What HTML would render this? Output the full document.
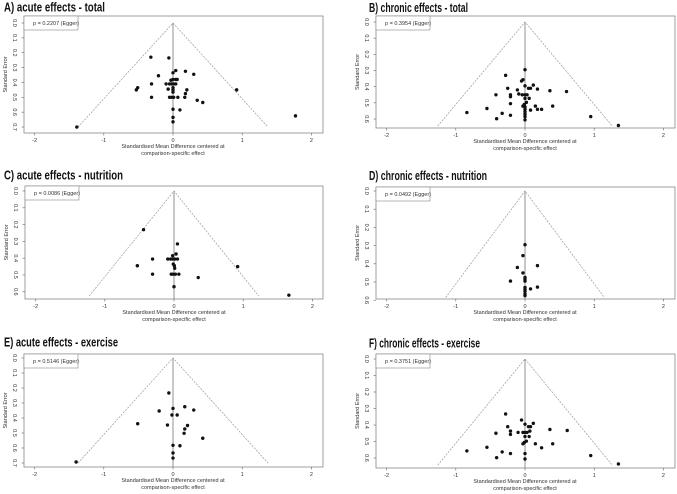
<!DOCTYPE html>
<html><head><meta charset="utf-8"><style>
html,body{margin:0;padding:0;background:#fff;}
svg{display:block;font-family:"Liberation Sans",sans-serif;}
.ttl{font-weight:bold;font-size:12.5px;fill:#111;}
.tk{font-size:5.5px;fill:#333;}
</style></head><body>
<svg id="fig" width="677" height="494" viewBox="0 0 677 494" xmlns="http://www.w3.org/2000/svg"></svg>
<script>
// ---- data: [SMD, SE] per panel ----
const panelTitles = ["A) acute effects - total","B) chronic effects - total","C) acute effects - nutrition","D) chronic effects - nutrition","E) acute effects - exercise","F) chronic effects - exercise"];
const eggerP = ["0.2207","0.3954","0.0086","0.0492","0.5146","0.3751"];
const xTicks = [-2,-1,0,1,2];
const seTicksA = [0,0.1,0.2,0.3,0.4,0.5,0.6,0.7];
const seTicksB = [0,0.1,0.2,0.3,0.4,0.5,0.6];
const funnelMaxSE = [0.70,0.643,0.625,0.585,0.70,0.643];
const smdA = [-0.32,-0.06,0.04,0.18,0,0.30,-0.21,-0.03,0,0.04,0.06,-0.10,-0.31,-0.05,-0.02,0.01,0.04,0,0,-0.07,0.2,-0.51,-0.53,0.92,0,0.18,-0.31,-0.05,-0.02,0.01,0.07,0.17,0.35,0.43,0,0.10,0,1.77,0,-1.39];
const seA  = [0.23,0.235,0.32,0.325,0.335,0.345,0.355,0.385,0.38,0.38,0.38,0.41,0.41,0.41,0.41,0.41,0.41,0.435,0.45,0.445,0.45,0.435,0.45,0.45,0.465,0.475,0.50,0.50,0.50,0.50,0.50,0.50,0.52,0.535,0.58,0.585,0.635,0.625,0.665,0.70];
const smdB = [0,-0.28,-0.03,-0.05,0,-0.25,0.12,0.05,0.08,0.18,0.36,0.60,-0.11,-0.09,-0.21,-0.21,-0.42,-0.04,0,0.03,0.06,0,0.02,-0.01,-0.03,-0.21,-0.55,0,0,0.15,0.18,0.24,0.40,0.08,-0.84,-0.33,-0.21,0,0,0,-0.41,0,0.95,1.35];
const seB  = [0.295,0.33,0.357,0.365,0.395,0.41,0.39,0.41,0.41,0.415,0.425,0.43,0.42,0.445,0.45,0.462,0.45,0.45,0.45,0.45,0.472,0.472,0.497,0.51,0.52,0.505,0.535,0.525,0.54,0.52,0.54,0.54,0.52,0.545,0.56,0.565,0.577,0.555,0.57,0.585,0.598,0.605,0.585,0.64];
const smdC = [-0.44,0.05,0.03,-0.02,-0.31,-0.09,-0.05,-0.02,0.01,0.05,-0.01,0.005,0.01,-0.53,0.92,-0.31,-0.04,-0.015,0.02,0.07,0.35,0,1.66];
const seC  = [0.23,0.315,0.375,0.385,0.405,0.405,0.405,0.405,0.405,0.405,0.435,0.445,0.46,0.445,0.45,0.495,0.495,0.495,0.495,0.495,0.515,0.57,0.62];
const smdD = [0,-0.03,-0.11,0.18,-0.03,0,0,0,-0.21,0,0,0,0,0,0.08,0.18];
const seD  = [0.295,0.355,0.42,0.41,0.45,0.475,0.485,0.495,0.495,0.53,0.54,0.55,0.565,0.575,0.538,0.528];
const smdE = [-0.06,0,0.17,0.30,-0.20,-0.015,0.06,-0.51,-0.08,0.21,0.17,0.16,0.43,0,0.10,0,0,-1.40];
const seE  = [0.233,0.336,0.325,0.347,0.353,0.38,0.38,0.438,0.447,0.45,0.473,0.502,0.535,0.582,0.585,0.633,0.667,0.693];
const smdF = [-0.28,-0.05,0,0.12,0.08,0.05,-0.25,0.07,-0.21,-0.21,-0.42,-0.10,-0.03,0,0.03,0.36,0.61,0,0.06,0.02,-0.01,-0.03,0.15,0.40,0.24,-0.55,-0.84,-0.33,-0.21,0,-0.41,0,0.95,1.35];
const seF  = [0.333,0.37,0.395,0.39,0.41,0.41,0.41,0.437,0.437,0.457,0.45,0.445,0.445,0.445,0.445,0.427,0.433,0.47,0.47,0.498,0.506,0.514,0.514,0.514,0.538,0.535,0.557,0.563,0.573,0.573,0.598,0.606,0.585,0.636];

// ---- layout (pixel geometry, not data) ----
const layout = [
 {L:24,R:323,T:16,B:133,x0:173,ppu:69.2,y0:23,ppse:148.6,ty:11.5,tx:4,tw:101},
 {L:376,R:675,T:16,B:128,x0:525,ppu:69.2,y0:22,ppse:161.7,ty:12,tx:369,tw:99},
 {L:25,R:323,T:186,B:299,x0:174,ppu:69.2,y0:191,ppse:168,ty:179.5,tx:4,tw:119},
 {L:376,R:675,T:187,B:299,x0:525,ppu:69.2,y0:191,ppse:182,ty:180,tx:369,tw:118},
 {L:24,R:323,T:354,B:467,x0:173,ppu:69.2,y0:358,ppse:150,ty:346.5,tx:4,tw:114},
 {L:376,R:675,T:354,B:468,x0:525,ppu:69.2,y0:359,ppse:165,ty:347.5,tx:369,tw:111}
];
const smdSets=[smdA,smdB,smdC,smdD,smdE,smdF];
const seSets=[seA,seB,seC,seD,seE,seF];
const seTickSets=[seTicksA,seTicksB,seTicksB,seTicksB,seTicksA,seTicksB];

const NS="http://www.w3.org/2000/svg";
const fig=document.getElementById('fig');
function mk(tag,attrs,parent,text){const e=document.createElementNS(NS,tag);for(const k in attrs)e.setAttribute(k,attrs[k]);if(text!==undefined)e.textContent=text;parent.appendChild(e);return e;}

layout.forEach((g,i)=>{
  const sx=v=>g.x0+v*g.ppu, sy=v=>g.y0+v*g.ppse;
  const grp=mk('g',{},fig);
  
  
  const t=mk('text',{x:g.tx,y:g.ty,class:'ttl',textLength:g.tw,lengthAdjust:'spacingAndGlyphs'},grp,panelTitles[i]);
  
  
  const box=mk('rect',{x:g.L,y:g.T,width:g.R-g.L,height:g.B-g.T,fill:'none',stroke:'#888','stroke-width':0.8},grp);
  
  
  const m=funnelMaxSE[i];
  const fn=mk('polyline',{points:`${sx(-1.96*m)},${sy(m)} ${sx(0)},${sy(0)} ${sx(1.96*m)},${sy(m)}`,fill:'none',stroke:'#999','stroke-width':0.7,'stroke-dasharray':'2,1.2'},grp);
  
  
  const vl=mk('line',{x1:sx(0),x2:sx(0),y1:sy(0),y2:g.B,stroke:'#777','stroke-width':0.8},grp);
  
  
  const lg=mk('rect',{x:g.L,y:g.T,width:54,height:14,fill:'#fff',stroke:'#888','stroke-width':0.6},grp);
  
  
  const lt=mk('text',{x:g.L+9,y:g.T+9,class:'tk','font-size':5.2},grp,'p = '+eggerP[i]+' (Egger)');
  
  
  xTicks.forEach(v=>{
    mk('line',{x1:sx(v),x2:sx(v),y1:g.B,y2:g.B+2.5,stroke:'#666','stroke-width':0.6},grp);
    const tx=mk('text',{x:sx(v),y:g.B+9,class:'tk','text-anchor':'middle'},grp,String(v));
    
    
  });
  const xl1=mk('text',{x:sx(0),y:g.B+15,class:'tk','text-anchor':'middle'},grp,'Standardised Mean Difference centered at');
  
  
  const xl2=mk('text',{x:sx(0),y:g.B+22,class:'tk','text-anchor':'middle'},grp,'comparison-specific effect');
  
  
  seTickSets[i].forEach(v=>{
    mk('line',{x1:g.L-2.5,x2:g.L,y1:sy(v),y2:sy(v),stroke:'#666','stroke-width':0.6},grp);
    const yt=mk('text',{x:g.L-9,y:sy(v),class:'tk','text-anchor':'middle',transform:`rotate(90 ${g.L-9} ${sy(v)})`,dy:'2'},grp,v.toFixed(1));
    
    
  });
  const yc=(g.T+g.B)/2;
  const yl=mk('text',{x:g.L-19,y:yc,class:'tk','text-anchor':'middle',transform:`rotate(-90 ${g.L-19} ${yc})`,dy:'2'},grp,'Standard Error');
  
  
  smdSets[i].forEach((v,k)=>{
    const c=mk('circle',{cx:sx(v),cy:sy(seSets[i][k]),r:1.7,fill:'#111'},grp);
    
    
  });
});
</script>
</body></html>
